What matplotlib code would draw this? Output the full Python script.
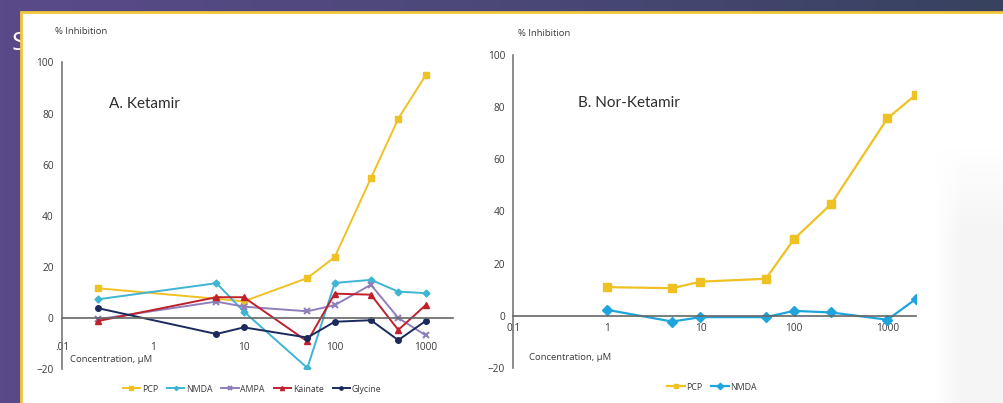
import numpy as np
import matplotlib
matplotlib.use("Agg")
import matplotlib.pyplot as plt
from matplotlib.colors import LinearSegmentedColormap
from matplotlib.patches import Rectangle

# ---------------- data ----------------
conc_a = [0.25, 5, 10, 50, 100, 250, 500, 1000]
pcp_a = [11.6, 7.5, 6.5, 15.6, 23.8, 54.7, 78.0, 95.0]
nmda_a = [7.3, 13.6, 2.5, -19.6, 13.7, 14.9, 10.3, 9.7]
ampa_a = [-0.5, 6.4, 4.4, 2.6, 5.0, 13.0, 0.0, -6.8]
kainate_a = [-1.2, 8.1, 8.1, -9.2, 9.5, 9.1, -4.7, 5.0]
glycine_a = [3.8, -6.3, -3.7, -7.7, -1.5, -0.9, -8.7, -1.2]

conc_b = [1, 5, 10, 50, 100, 250, 1000, 2000]
pcp_b = [11.0, 10.6, 13.1, 14.2, 29.4, 42.9, 75.7, 84.7]
nmda_b = [2.3, -2.2, -0.5, -0.5, 1.9, 1.3, -1.5, 6.4]

xtick_vals = [0.1, 1, 10, 100, 1000]
xtick_labels_a = [".01", "1", "10", "100", "1000"]
xtick_labels_b = ["0.1", "1", "10", "100", "1000"]
ytick_vals = [-20, 0, 20, 40, 60, 80, 100]

# ---------------- figure ----------------
W, H = 1004, 403
fig = plt.figure(figsize=(W / 100, H / 100), dpi=100)

def frac(x0, x1, ytop, ybot):
    return [x0 / W, 1 - ybot / H, (x1 - x0) / W, (ybot - ytop) / H]

# background
bg = fig.add_axes([0, 0, 1, 1])
bg.set_xlim(0, W)
bg.set_ylim(H, 0)
bg.axis("off")
cmap = LinearSegmentedColormap.from_list("bg", ["#5a4a8a", "#4b4878", "#37425f"])
grad = np.linspace(0, 1, 256).reshape(1, -1)
bg.imshow(grad, cmap=cmap, extent=[0, W, H, 0], aspect="auto", zorder=0)
bg.text(12, 43, "S", color="white", fontsize=19, family="Open Sans",
        va="center", ha="left", zorder=1)
bg.add_patch(Rectangle((21, 12), W + 20, H + 20, facecolor="white",
                       edgecolor="#f2c63a", linewidth=2.0, zorder=2))
# faint grey blur region on the right
shade = np.ones((50, 50, 4))
shade[..., :3] = 0.93
xs = np.clip(np.linspace(0, 1, 50) * 2.5, 0, 1)
ys = np.clip(np.linspace(0, 1, 50) * 3, 0, 1)
shade[..., 3] = 0.55 * np.outer(ys, xs)
bg.imshow(shade, extent=[935, W, H, 145], aspect="auto", zorder=2.5,
          interpolation="bilinear")
bg.set_xlim(0, W)
bg.set_ylim(H, 0)

TXT = "#3a3a3a"
tick_font = dict(family="Open Sans", size=7.3, color=TXT)

C_PCP = "#efc123"
C_NMDA = "#3db5d3"
C_AMPA = "#8f7fba"
C_KAI = "#c0202c"
C_GLY = "#1b2a5c"
C_NMDA_B = "#1fa5de"

def setup(ax, labels, xpad, ypad):
    ax.set_xscale("log")
    ax.set_xlim(0.1, 2000)
    ax.set_ylim(-20, 100)
    ax.patch.set_alpha(0)
    for s in ["top", "right"]:
        ax.spines[s].set_visible(False)
    ax.spines["left"].set_color("#777777")
    ax.spines["left"].set_linewidth(1.2)
    ax.spines["bottom"].set_position(("data", 0))
    ax.spines["bottom"].set_color("#666666")
    ax.spines["bottom"].set_linewidth(1.2)
    ax.set_xticks(xtick_vals)
    ax.set_xticklabels(labels)
    ax.xaxis.set_minor_locator(matplotlib.ticker.NullLocator())
    ax.set_yticks(ytick_vals)
    ax.tick_params(length=0)
    ax.tick_params(axis="x", pad=xpad)
    ax.tick_params(axis="y", pad=ypad)
    for lab in ax.get_xticklabels() + ax.get_yticklabels():
        lab.set_fontfamily(tick_font["family"])
        lab.set_fontsize(tick_font["size"])
        lab.set_color(tick_font["color"])

# ---------------- panel A ----------------
axA = fig.add_axes(frac(62, 453, 62.5, 369))
axA.set_zorder(3)
setup(axA, xtick_labels_a, 17.5, 6)
lw = 1.4
axA.plot(conc_a, pcp_a, color=C_PCP, marker="s", ms=4.5, lw=lw, label="PCP")
axA.plot(conc_a, nmda_a, color=C_NMDA, marker="D", ms=3.5, lw=lw, label="NMDA")
axA.plot(conc_a, ampa_a, color=C_AMPA, marker="x", ms=5, mew=1.5, lw=lw, label="AMPA")
axA.plot(conc_a, kainate_a, color=C_KAI, marker="^", ms=5, lw=lw, label="Kainate")
axA.plot(conc_a, glycine_a, color=C_GLY, marker="o", ms=4, lw=lw, label="Glycine")
axA.legend(loc="center", bbox_to_anchor=(252 / W, 1 - 389 / H),
           bbox_transform=fig.transFigure, ncol=5, frameon=False,
           prop=dict(family="Open Sans", size=6.3), handlelength=2.0,
           handletextpad=0.2, columnspacing=1.0, markerscale=0.6,
           labelcolor=TXT)

# ---------------- panel B ----------------
axB = fig.add_axes(frac(513.5, 915.6, 55, 368))
axB.set_zorder(3)
setup(axB, xtick_labels_b, 5, 6)
axB.plot(conc_b, pcp_b, color=C_PCP, marker="s", ms=5.5, lw=1.6, label="PCP")
axB.plot(conc_b, nmda_b, color=C_NMDA_B, marker="D", ms=5.5, lw=1.6, label="NMDA")
axB.legend(loc="center", bbox_to_anchor=(712 / W, 1 - 387 / H),
           bbox_transform=fig.transFigure, ncol=2, frameon=False,
           prop=dict(family="Open Sans", size=6.3), handlelength=2.0,
           handletextpad=0.2, columnspacing=1.0, markerscale=0.6,
           labelcolor=TXT)

# ---------------- texts ----------------
def ftext(x, y, s, **kw):
    fig.text(x / W, 1 - y / H, s, **kw)

ftext(55, 32, "% Inhibition", family="Open Sans", size=6.8, color=TXT, va="center")
ftext(518, 33, "% Inhibition", family="Open Sans", size=6.8, color=TXT, va="center")
ftext(70, 360, "Concentration, µM", family="Open Sans", size=6.8, color=TXT, va="center")
ftext(529, 358, "Concentration, µM", family="Open Sans", size=6.8, color=TXT, va="center")
ftext(109, 104, "A. Ketamir", family="Lato", size=11, color="#2e2e2e", va="center")
ftext(578, 103, "B. Nor-Ketamir", family="Lato", size=11, color="#2e2e2e", va="center")

fig.savefig("out.png", dpi=100)
